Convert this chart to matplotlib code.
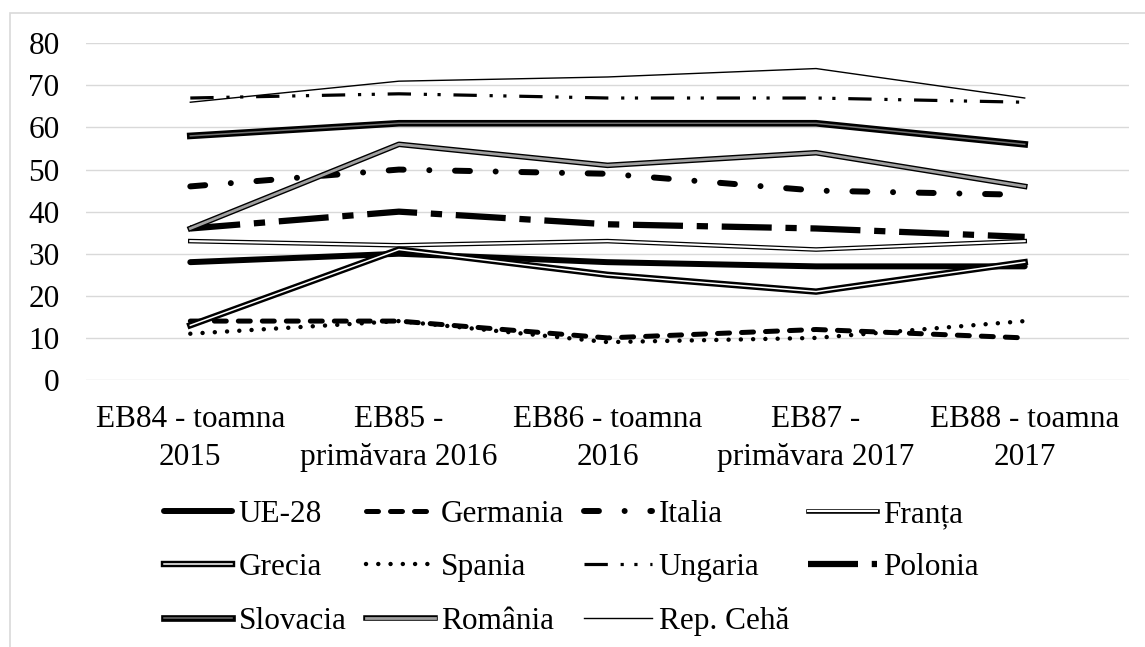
import matplotlib
matplotlib.use('Agg')
import matplotlib.pyplot as plt
import matplotlib.patheffects as pe
from matplotlib.patches import Rectangle

# date
categorii = ["EB84 - toamna\n2015", "EB85 -\nprimăvara 2016", "EB86 - toamna\n2016",
             "EB87 -\nprimăvara 2017", "EB88 - toamna\n2017"]
ue28 = [28, 30, 28, 27, 27]
germania = [14, 14, 10, 12, 10]
italia = [46, 50, 49, 45, 44]
franta = [33, 32, 33, 31, 33]
grecia = [13, 31, 25, 21, 28]
spania = [11, 14, 9, 10, 14]
ungaria = [67, 68, 67, 67, 66]
polonia = [36, 40, 37, 36, 34]
slovacia = [58, 61, 61, 61, 56]
romania = [36, 56, 51, 54, 46]
rep_ceha = [66, 71, 72, 74, 67]

plt.rcParams['font.family'] = ['Liberation Serif', 'DejaVu Serif']
FS = 22.5

fig = plt.figure(figsize=(11.45, 6.47), dpi=100)
W, H = 1145, 647
ax = fig.add_axes([86 / W, 1 - 380 / H, (1129 - 86) / W, (380 - 43.3) / H])

# chenarul graficului
fig.patches.append(Rectangle((10 / W, -0.1), 1.2, 1 - 13 / H + 0.1, transform=fig.transFigure,
                             fill=False, edgecolor='#d9d9d9', linewidth=1.2))

x = list(range(len(categorii)))

def double(outer, inner_w, inner_c):
    return dict(color=inner_c, linewidth=inner_w,
                path_effects=[pe.Stroke(linewidth=outer, foreground='black'), pe.Normal()])

lines = {}
lines['UE-28'] = ax.plot(x, ue28, color='black', lw=4.3, solid_capstyle='round')[0]
lines['Germania'] = ax.plot(x, germania, color='black', lw=3.6, dashes=(2.4, 2.4),
                            dash_capstyle='round')[0]
lines['Italia'] = ax.plot(x, italia, color='black', lw=4.3, dashes=(2.5, 4.3, 0.01, 4.3),
                          dash_capstyle='round')[0]
lines['Franța'] = ax.plot(x, franta, **double(3.3, 1.5, 'white'))[0]
lines['Grecia'] = ax.plot(x, grecia, **double(4.6, 1.1, 'white'))[0]
lines['Spania'] = ax.plot(x, spania, color='black', lw=3.2, dashes=(0.01, 2.75),
                          dash_capstyle='round')[0]
lines['Ungaria'] = ax.plot(x, ungaria, color='black', lw=2.3, dashes=(7.3, 4, 1, 3.3, 1, 4),
                           dash_capstyle='butt')[0]
lines['Polonia'] = ax.plot(x, polonia, color='black', lw=4.5, dashes=(8.0, 2.2, 1.8, 2.2),
                           dash_capstyle='butt')[0]
lines['Slovacia'] = ax.plot(x, slovacia, **double(4.8, 1.1, '#6f6f6f'))[0]
lines['România'] = ax.plot(x, romania, **double(4.0, 2.0, '#a0a0a0'))[0]
lines['Rep. Cehă'] = ax.plot(x, rep_ceha, color='black', lw=1.0)[0]

ax.set_xlim(-0.5, 4.5)
ax.set_ylim(0, 80)
ax.set_yticks(range(0, 81, 10))
ax.set_xticks(x)
ax.set_xticklabels(categorii, fontsize=FS, linespacing=1.4)
ax.tick_params(axis='y', length=0, pad=19, labelsize=FS)
ax.tick_params(axis='x', length=0, pad=18)
ax.grid(axis='y', color='#d9d9d9', linewidth=1.0)
ax.set_axisbelow(True)
for s in ax.spines.values():
    s.set_visible(False)

# ordinea pe coloane ca legenda sa iasa pe randuri ca in original
ordine = ['UE-28', 'Grecia', 'Slovacia', 'Germania', 'Spania', 'România',
          'Italia', 'Ungaria', 'Rep. Cehă', 'Franța', 'Polonia']
fig.legend([lines[k] for k in ordine], ordine, loc='upper center',
           bbox_to_anchor=(0.499, 1 - 500 / H), ncols=4, frameon=False, fontsize=FS,
           handlelength=2.2, handletextpad=0.2, columnspacing=0.62, labelspacing=0.78,
           borderaxespad=0, borderpad=0)

fig.savefig('out.png', dpi=100)
